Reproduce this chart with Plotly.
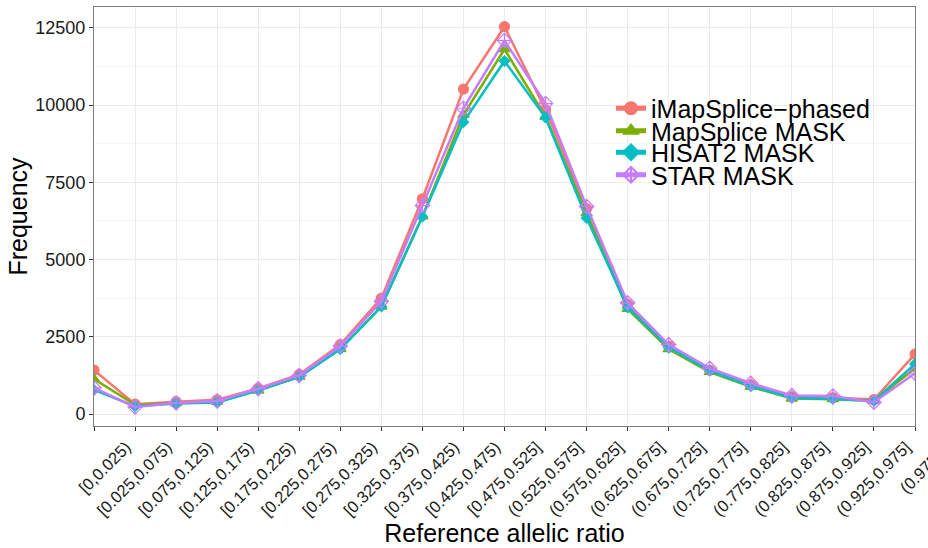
import plotly.graph_objects as go

categories = ["[0,0.025)", "[0.025,0.075)", "[0.075,0.125)", "[0.125,0.175)", "[0.175,0.225)",
              "[0.225,0.275)", "[0.275,0.325)", "[0.325,0.375)", "[0.375,0.425)", "[0.425,0.475)",
              "[0.475,0.525]", "(0.525,0.575]", "(0.575,0.625]", "(0.625,0.675]", "(0.675,0.725]",
              "(0.725,0.775]", "(0.775,0.825]", "(0.825,0.875]", "(0.875,0.925]", "(0.925,0.975]",
              "(0.975,1]"]

imapsplice_phased = [1420, 320, 400, 460, 830, 1280, 2250, 3750, 6970, 10520, 12540,
                     9850, 6650, 3550, 2200, 1420, 950, 560, 530, 470, 1940]
mapsplice_mask = [1130, 300, 350, 390, 760, 1200, 2100, 3480, 6400, 9690, 11810,
                  9620, 6500, 3400, 2100, 1360, 880, 500, 480, 430, 1480]
hisat2_mask = [780, 250, 340, 370, 770, 1200, 2100, 3480, 6390, 9450, 11430,
               9600, 6350, 3450, 2150, 1400, 900, 520, 490, 420, 1620]
star_mask = [850, 230, 360, 420, 820, 1250, 2200, 3650, 6750, 9900, 12090,
             10050, 6720, 3600, 2250, 1480, 1000, 600, 580, 380, 1320]

y_tick_vals = [0, 2500, 5000, 7500, 10000, 12500]
y_tick_text = ["0", "2500", "5000", "7500", "10000", "12500"]

series = [
    ("iMapSplice\u2212phased", imapsplice_phased, "#F8766D", "circle", 10),
    ("MapSplice MASK", mapsplice_mask, "#7CAE00", "triangle-up", 10),
    ("HISAT2 MASK", hisat2_mask, "#00BFC4", "diamond", 8),
    ("STAR MASK", star_mask, "#C77CFF", "diamond-cross-open", 11),
]

# plot area in pixels
PL, PR, PT, PB = 94, 915, 7, 426
PW, PH = PR - PL, PB - PT


def px_x(x):
    return (x - PL) / PW


def px_y(y):
    return (PB - y) / PH


legend_rows = [108.5, 131, 152.5, 175]

fig = go.Figure()
layout_legends = {}
for i, (name, vals, color, sym, sz) in enumerate(series):
    lname = "legend" if i == 0 else f"legend{i + 1}"
    fig.add_trace(go.Scatter(
        x=categories, y=vals, name=name, mode="lines+markers",
        line=dict(color=color, width=2.5),
        marker=dict(symbol=sym, size=sz, color=color, line=dict(color=color, width=1.2)),
        legend=lname,
    ))
    layout_legends[lname] = dict(
        x=px_x(611), y=px_y(legend_rows[i]), xanchor="left", yanchor="middle",
        bgcolor="rgba(0,0,0,0)", font=dict(size=25, color="black"),
        borderwidth=0, itemsizing="constant",
    )

fig.add_shape(type="rect", xref="paper", yref="paper",
              x0=px_x(620), x1=px_x(882), y0=px_y(190), y1=px_y(73),
              fillcolor="white", line=dict(width=0), layer="below")

fig.update_layout(
    width=928, height=548,
    margin=dict(l=PL, r=928 - PR, t=PT, b=548 - PB),
    paper_bgcolor="white", plot_bgcolor="white",
    font=dict(family="Liberation Sans, Arial, sans-serif", color="black"),
    showlegend=True,
    xaxis=dict(
        type="category", range=[0, 20], automargin=False,
        title=dict(text="Reference allelic ratio", font=dict(size=25), standoff=4),
        tickangle=-45, tickfont=dict(size=16.5, color="#1a1a1a"),
        ticklabelshift=32,
        showgrid=True, gridcolor="#ebebeb", gridwidth=1,
        ticks="outside", ticklen=4, tickcolor="#333333",
        showline=True, linecolor="#7f7f7f", linewidth=1, mirror=True, zeroline=False,
    ),
    yaxis=dict(
        range=[-388, 13178], automargin=False,
        tickmode="array", tickvals=y_tick_vals, ticktext=y_tick_text,
        title=dict(text="Frequency", font=dict(size=25), standoff=0),
        tickfont=dict(size=18, color="#1a1a1a"),
        showgrid=True, gridcolor="#ebebeb", gridwidth=1,
        minor=dict(tickvals=[1250, 3750, 6250, 8750, 11250], showgrid=True,
                   gridcolor="#f5f5f5", gridwidth=0.6, ticks=""),
        ticks="outside", ticklen=4, tickcolor="#333333",
        showline=True, linecolor="#7f7f7f", linewidth=1, mirror=True, zeroline=False,
    ),
    **layout_legends,
)

fig.write_html("out.html", config={"displayModeBar": False},
               post_script="document.body.style.margin='0px';document.body.style.overflow='hidden';")
